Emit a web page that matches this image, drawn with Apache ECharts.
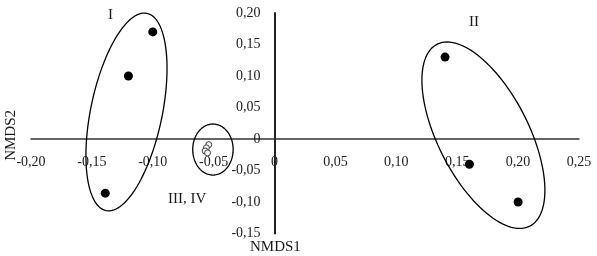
<!DOCTYPE html>
<html>
<head>
<meta charset="utf-8">
<script src="https://cdn.jsdelivr.net/npm/echarts@6/dist/echarts.min.js"></script>
<style>
html,body{margin:0;padding:0;background:#fff;}
#chart{width:597px;height:256px;}
</style>
</head>
<body>
<div id="chart"></div>
<script>
// ---- data ----
const groupI = [[-0.100, 0.170], [-0.120, 0.100], [-0.139, -0.086]];
const groupII = [[0.140, 0.130], [0.160, -0.040], [0.200, -0.100]];
const groupIIIIV = [[-0.054, -0.009], [-0.056, -0.014], [-0.057, -0.019], [-0.055, -0.022]];

const xTickValues = [-0.20, -0.15, -0.10, -0.05, 0, 0.05, 0.10, 0.15, 0.20, 0.25];
const xTickLabels = ['-0,20', '-0,15', '-0,10', '-0,05', '0', '0,05', '0,10', '0,15', '0,20', '0,25'];
const yTickValues = [-0.15, -0.10, -0.05, 0, 0.05, 0.10, 0.15, 0.20];
const yTickLabels = ['-0,15', '-0,10', '-0,05', '0', '0,05', '0,10', '0,15', '0,20'];

// ellipses in data units: [cx, cy, halfWidth, halfHeight, phase]
const ellipseI = [-0.1216, 0.0429, 0.0333, 0.157, 1.115];
const ellipseII = [0.1715, 0.006, 0.0505, 0.148, 2.202];
const ellipseIIIIV = [-0.0506, -0.0167, 0.0166, 0.0405, 1.5708];
const ellipses = [ellipseI, ellipseII, ellipseIIIIV];

const axisTitleX = 'NMDS1';
const axisTitleY = 'NMDS2';
const groupNames = ['I', 'II', 'III, IV'];

// ---- chart ----
const FONT = 'Liberation Serif';
const W = 597, H = 256;
const GRID = {left: 31, right: 18, top: 13, bottom: 22.5};
const chart = echarts.init(document.getElementById('chart'), null, {renderer: 'canvas'});

function lookup(vals, labels) {
  return function (v) {
    const i = vals.findIndex(t => Math.abs(t - v) < 1e-9);
    return i >= 0 ? labels[i] : '';
  };
}

const option = {
  backgroundColor: '#fff',
  animation: false,
  grid: {left: GRID.left, right: GRID.right, top: GRID.top, bottom: GRID.bottom, containLabel: false, outerBoundsMode: 'none'},
  xAxis: {
    type: 'value', min: -0.20, max: 0.25, interval: 0.05, position: 'bottom',
    axisLine: {onZero: false, lineStyle: {color: '#333', width: 1.5}},
    axisTick: {show: false},
    splitLine: {show: false},
    axisLabel: {formatter: lookup(xTickValues, xTickLabels), fontFamily: FONT, fontSize: 14, color: '#222', margin: 16, hideOverlap: false}
  },
  yAxis: {
    type: 'value', min: -0.15, max: 0.20, interval: 0.05, position: 'left',
    axisLine: {onZero: false, lineStyle: {color: '#222', width: 2}},
    axisTick: {show: false},
    splitLine: {show: false},
    axisLabel: {formatter: lookup(yTickValues, yTickLabels), fontFamily: FONT, fontSize: 14, color: '#222', margin: 14, hideOverlap: false}
  },
  series: [
    {
      type: 'custom',
      coordinateSystem: 'cartesian2d',
      data: ellipses.map((e, i) => [e[0], e[1], i]),
      clip: false,
      silent: true,
      z: 1,
      renderItem: function (params, api) {
        const e = ellipses[api.value(2)];
        const pts = [];
        const N = 120;
        for (let k = 0; k < N; k++) {
          const t = 2 * Math.PI * k / N;
          pts.push(api.coord([e[0] + e[2] * Math.cos(t), e[1] + e[3] * Math.cos(t - e[4])]));
        }
        return {
          type: 'polygon',
          shape: {points: pts, smooth: 0},
          style: {fill: 'none', stroke: '#000', lineWidth: 1.3}
        };
      }
    },
    {
      type: 'scatter', data: groupI, symbol: 'circle', symbolSize: 9,
      itemStyle: {color: '#000', opacity: 1}, z: 3
    },
    {
      type: 'scatter', data: groupII, symbol: 'circle', symbolSize: 9,
      itemStyle: {color: '#000', opacity: 1}, z: 3
    },
    {
      type: 'scatter', data: groupIIIIV, symbol: 'circle', symbolSize: 6,
      itemStyle: {color: '#f4f4f4', borderColor: '#444', borderWidth: 1, opacity: 1}, z: 3
    }
  ],
  graphic: [
    {type: 'text', left: 108, top: 8, style: {text: groupNames[0], font: '15px "Liberation Serif"', fill: '#1a1a1a'}},
    {type: 'text', left: 469, top: 15, style: {text: groupNames[1], font: '15px "Liberation Serif"', fill: '#1a1a1a'}},
    {type: 'text', left: 168, top: 192, style: {text: groupNames[2], font: '15px "Liberation Serif"', fill: '#1a1a1a'}},
    {type: 'text', left: 250, top: 240, style: {text: axisTitleX, font: '15px "Liberation Serif"', fill: '#1a1a1a'}},
    {type: 'text', left: 4, top: 110, rotation: Math.PI / 2, style: {text: axisTitleY, font: '15px "Liberation Serif"', fill: '#1a1a1a'}}
  ]
};
chart.setOption(option);

// move both axes (line + labels) so that they cross at the origin
const origin = chart.convertToPixel({gridIndex: 0}, [0, 0]);
chart.setOption({
  xAxis: {offset: origin[1] - (H - GRID.bottom)},
  yAxis: {offset: GRID.left - origin[0]}
});
</script>
</body>
</html>
